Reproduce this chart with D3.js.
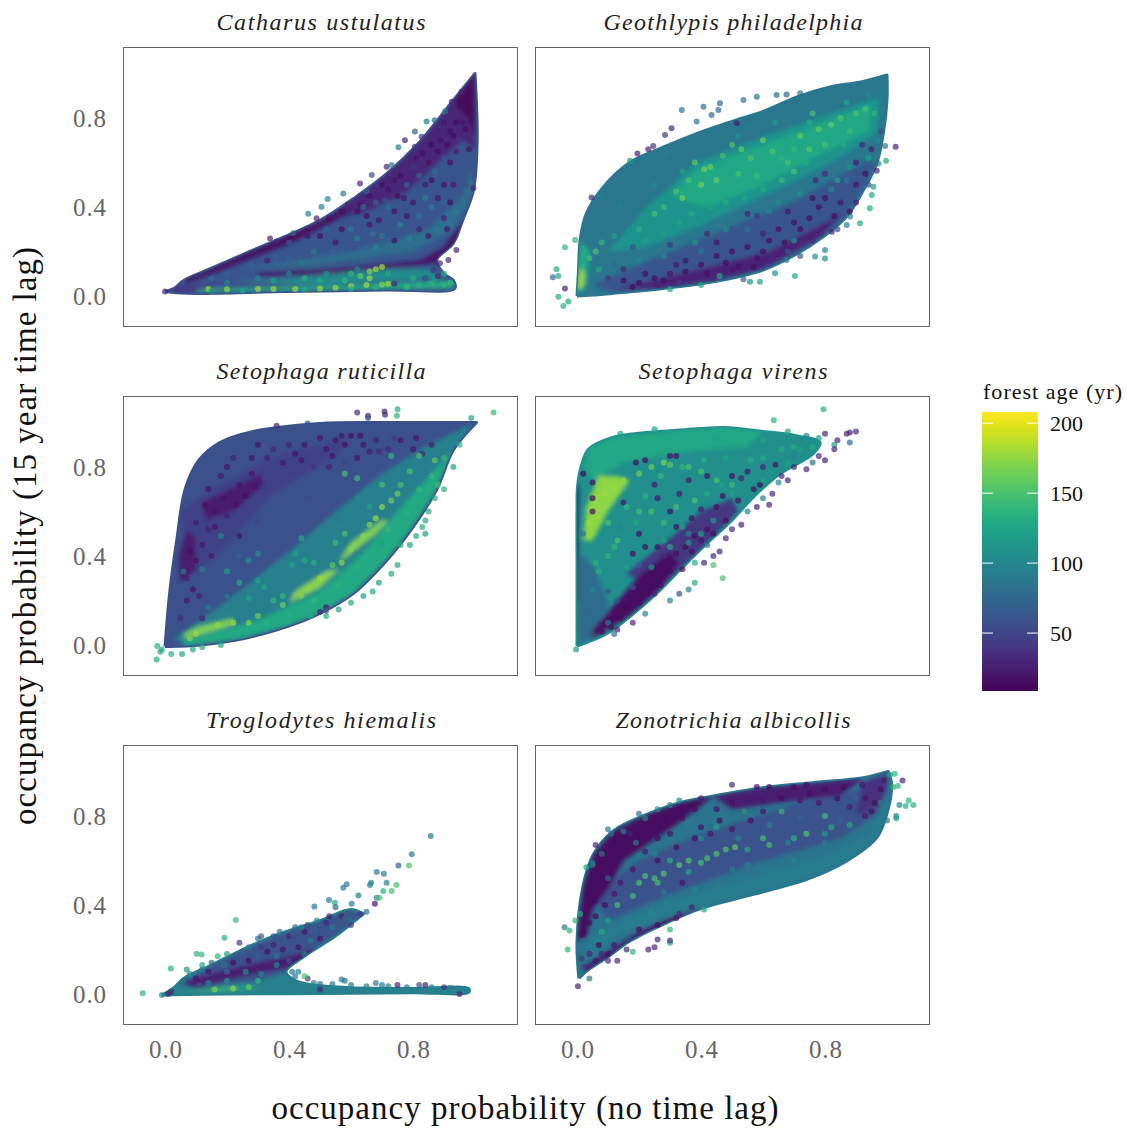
<!DOCTYPE html>
<html>
<head>
<meta charset="utf-8">
<script src="https://cdn.jsdelivr.net/npm/d3@7/dist/d3.min.js"></script>
<style>
  html, body { margin: 0; background: #fff; }
  svg text { font-family: "Liberation Serif", serif; }
</style>
</head>
<body>
<svg id="chart" width="1127" height="1128"></svg>
<script>
var species = ["Catharus ustulatus", "Geothlypis philadelphia", "Setophaga ruticilla",
               "Setophaga virens", "Troglodytes hiemalis", "Zonotrichia albicollis"];
var xTicks = [0, 0.4, 0.8];
var yTicks = [0, 0.4, 0.8];
var ageTicks = [50, 100, 150, 200];
var ageRange = [8.6, 208];

// regions: [age, outline], read off the dense part of each cloud. the first one is the hull
// a repeated vertex keeps the hull curve sharp at the tips of a cloud
var catharusRegions = [
  [62, [[0,.02],[0,.02],[.03,.035],[.06,.07],[.15,.125],[.285,.207],[.5,.34],[.62,.45],[.715,.55],[.82,.69],[.93,.88],[1,1],[1,1],[1.007,.7],[.995,.476],[.96,.34],[.93,.237],[.876,.16],[.9,.1],[.93,.07],[.935,.035],[.715,.027],[.39,.02],[.07,.012]]],
  [30, [[.5,.33],[.715,.55],[.82,.69],[.93,.88],[1,1],[1,.66],[.96,.7],[.88,.6],[.78,.47],[.65,.38]]],
  [14, [[.06,.07],[.285,.207],[.5,.335],[.6,.4],[.55,.34],[.4,.235],[.28,.17],[.15,.1],[.07,.055]]],
  [14, [[.93,.88],[1,1],[1,.72],[.975,.8]]],
  [80, [[.25,.12],[.6,.2],[.85,.3],[.96,.45],[.99,.56],[.995,.46],[.93,.3],[.8,.2],[.5,.14]]],
  [18, [[.3,.105],[.5,.115],[.7,.14],[.82,.16],[.9,.22],[.95,.32],[.97,.33],[.93,.2],[.88,.15],[.8,.135],[.7,.12],[.5,.095],[.3,.09]]],
  [105,[[.12,.05],[.4,.08],[.68,.12],[.85,.12],[.9,.08],[.5,.05]]],
  [50, [[.06,.06],[.3,.06],[.5,.05],[.3,.04],[.06,.04]]],
  [130,[[.1,.018],[.93,.035],[.93,.07],[.6,.05],[.1,.03]]],
  [40, [[0,.02],[.04,.045],[.14,.04],[.08,.015]]]
];
var geothlypisRegions = [
  [88, [[0,0],[0,0],[.005,.12],[.01,.25],[.03,.37],[.085,.49],[.17,.6],[.28,.67],[.386,.73],[.49,.78],[.6,.83],[.71,.895],[.816,.94],[.92,.963],[1,.993],[1,.993],[1,.88],[.988,.73],[.967,.596],[.924,.476],[.87,.357],[.795,.267],[.71,.19],[.6,.117],[.44,.064],[.278,.034],[.117,.012],[.05,.004]]],
  [62, [[.05,.05],[.386,.25],[.71,.43],[.924,.6],[.967,.596],[.924,.476],[.87,.357],[.795,.267],[.71,.19],[.6,.117],[.44,.064],[.278,.034],[.117,.012]]],
  [112,[[.1,.2],[.225,.4],[.386,.6],[.6,.716],[.816,.82],[.977,.896],[.967,.73],[.816,.596],[.6,.446],[.386,.31],[.225,.22]]],
  [128,[[.3,.45],[.386,.57],[.6,.68],[.816,.79],[.95,.86],[.94,.74],[.8,.65],[.6,.5],[.42,.4]]],
  [28, [[.12,.03],[.3,.09],[.45,.14],[.62,.2],[.8,.33],[.86,.38],[.79,.27],[.6,.12],[.44,.07],[.28,.035]]],
  [130,[[-.005,.0],[.01,.25],[.04,.2],[.03,.05]]],
  [178,[[.002,.04],[.008,.13],[.025,.1],[.02,.03]]]
];
var ruticillaRegions = [
  [58, [[0,-.007],[0,-.007],[.016,.247],[.038,.472],[.065,.7],[.108,.828],[.177,.91],[.285,.96],[.5,.996],[.715,1],[.9,1],[1.005,1],[1.005,1],[.93,.876],[.876,.697],[.8,.53],[.715,.38],[.608,.232],[.5,.142],[.392,.082],[.23,.022],[.07,-.005]]],
  [95, [[.03,.03],[.2,.2],[.4,.42],[.55,.6],[.7,.77],[.85,.9],[1,1],[.93,.876],[.8,.53],[.608,.232],[.392,.082],[.07,-.005]]],
  [130,[[.05,.012],[.3,.11],[.5,.24],[.65,.43],[.78,.65],[.9,.83],[1,.995],[.93,.876],[.876,.697],[.8,.53],[.715,.38],[.608,.232],[.5,.142],[.392,.082],[.23,.022],[.07,-.005]]],
  [48, [[.05,.6],[.15,.7],[.35,.85],[.6,.93],[.55,.85],[.35,.68],[.2,.45],[.08,.3]]],
  [24, [[.13,.56],[.22,.6],[.32,.72],[.31,.77],[.22,.71],[.12,.64]]],
  [24, [[.05,.28],[.1,.34],[.1,.48],[.07,.52],[.045,.4]]],
  [168,[[.06,.03],[.12,.05],[.22,.09],[.22,.12],[.1,.08],[.06,.05]]],
  [172,[[.4,.19],[.5,.26],[.56,.34],[.52,.33],[.42,.24]]],
  [170,[[.56,.37],[.68,.5],[.72,.56],[.7,.56],[.6,.46]]]
];
var virensRegions = [
  [108,[[0,-.005],[0,-.005],[0,.2],[0,.4],[0,.6],[.002,.716],[.015,.81],[.037,.88],[.107,.93],[.225,.955],[.333,.966],[.472,.978],[.6,.96],[.71,.94],[.784,.91],[.762,.86],[.655,.77],[.58,.68],[.49,.547],[.408,.442],[.332,.337],[.257,.232],[.17,.127],[.097,.052]]],
  [128,[[.02,.8],[.037,.88],[.107,.93],[.333,.966],[.472,.978],[.6,.96],[.55,.89],[.35,.87],[.15,.82],[.05,.74]]],
  [78, [[0,0],[0,.42],[.05,.36],[.1,.2],[.1,.05]]],
  [40, [[.16,.32],[.3,.48],[.4,.6],[.5,.66],[.52,.6],[.4,.43],[.26,.24]]],
  [15, [[.05,.03],[.17,.13],[.26,.24],[.33,.37],[.3,.42],[.2,.31],[.1,.15],[.05,.07]]],
  [174,[[.02,.47],[.05,.47],[.1,.6],[.17,.74],[.13,.76],[.07,.76],[.03,.62]]],
  [14, [[-.002,.2],[-.002,.72],[.006,.72],[.004,.2]]]
];
var troglodytesRegions = [
  [95, [[-.01,-.005],[-.01,-.005],[.03,.03],[.06,.07],[.15,.13],[.25,.2],[.35,.26],[.5,.33],[.6,.38],[.64,.36],[.64,.36],[.55,.26],[.45,.17],[.39,.1],[.42,.06],[.48,.04],[.6,.028],[.8,.025],[.98,.024],[.98,.008],[.8,.006],[.5,.002],[.2,0]]],
  [60, [[.05,.05],[.15,.13],[.25,.2],[.35,.26],[.5,.33],[.6,.38],[.64,.36],[.55,.26],[.45,.17],[.39,.1],[.3,.06],[.1,.03]]],
  [22, [[.05,.05],[.2,.11],[.3,.14],[.4,.17],[.47,.2],[.5,.18],[.4,.12],[.25,.08],[.1,.03]]],
  [145,[[.06,.008],[.2,.03],[.32,.03],[.2,.015]]]
];
var zonotrichiaRegions = [
  [85, [[.006,.07],[.006,.07],[0,.238],[.02,.49],[.053,.628],[.117,.733],[.225,.807],[.332,.86],[.44,.89],[.6,.927],[.762,.95],[.924,.972],[1.004,1],[1.004,1],[1.015,.942],[.999,.807],[.967,.703],[.87,.598],[.741,.515],[.547,.44],[.408,.388],[.278,.313],[.171,.238],[.096,.163],[.031,.103]]],
  [60, [[.05,.45],[.2,.6],[.4,.72],[.7,.85],[.95,.93],[.98,.82],[.85,.7],[.6,.6],[.3,.45],[.1,.33]]],
  [15, [[0,.24],[.02,.49],[.053,.628],[.117,.733],[.225,.807],[.332,.86],[.44,.89],[.3,.74],[.15,.6],[.1,.47],[.05,.38],[.03,.25]]],
  [25, [[.44,.89],[.6,.927],[.762,.95],[.924,.972],[.85,.89],[.65,.86],[.5,.83]]],
  [38, [[.9,.8],[.92,.95],[1,.99],[1,.86]]],
  [20, [[.02,.12],[.1,.19],[.2,.28],[.3,.34],[.4,.39],[.3,.3],[.17,.235],[.1,.16],[.03,.1]]],
  [92, [[.03,.24],[.1,.3],[.3,.42],[.55,.52],[.8,.62],[.95,.72],[1,.92],[.999,.807],[.967,.703],[.87,.598],[.741,.515],[.547,.44],[.408,.39],[.278,.345],[.13,.27],[.05,.18]]]
];

// single visible points: [x, y, age]
var catharusPoints = [
  [.957,.918,30],[.925,.873,30],[.903,.829,95],[.87,.79,75],[.844,.784,85],[.806,.739,70],[.828,.716,40],[.774,.7,30],[.753,.668,100],[.806,.671,40],
  [.715,.581,30],[.731,.589,95],[.667,.544,60],[.629,.506,30],[.575,.461,100],[.525,.436,100],[.505,.4,100],[.462,.37,95],[.489,.349,30],[.414,.282,70],
  [.339,.259,30],[.36,.245,30],[.995,.484,30],[.94,.207,30],[.887,.147,30],[.914,.162,30],[.866,.117,40],[.59,.41,30],[.65,.47,70],[.69,.5,40],
  [.95,.85,15],[.97,.75,15],[.93,.72,15],[.9,.78,20],[.88,.65,15],[.92,.6,15],[.96,.6,60],[.85,.6,15],[.8,.58,40],[.9,.5,18],[.95,.45,65],[.84,.5,18],
  [.78,.5,70],[.72,.48,18],[.8,.42,18],[.68,.42,70],[.62,.38,18],[.74,.38,20],[.86,.4,90],[.58,.33,60],[.66,.32,20],[.52,.3,75],[.46,.27,20],[.4,.24,60],
  [.7,.27,90],[.76,.32,100],[.82,.3,25],[.9,.35,25],[.62,.26,95],[.55,.24,20],[.48,.2,90],[.4,.17,70],[.33,.16,25],[.72,.4,85],[.78,.36,20],[.84,.44,95],
  [.88,.44,20],[.93,.5,20],[.97,.5,60],[.94,.65,25],[.87,.56,80],[.75,.45,15],[.6,.3,90],[.65,.36,15],[.69,.34,20],[.92,.42,15],[.98,.66,18],[.97,.9,15],
  [.6,.1,140],[.63,.09,160],[.66,.08,175],[.68,.12,180],[.7,.13,180],[.66,.11,170],[.5,.07,130],[.45,.08,135],[.35,.07,120],[.58,.07,140],
  [.6,.045,178],[.65,.05,180],[.7,.052,175],[.74,.055,30],[.72,.055,178],[.5,.034,178],[.42,.032,178],[.3,.031,178],[.2,.03,175],[.14,.032,175],[.35,.031,178],[.55,.037,178],
  [.87,.08,120],[.9,.1,130],[.92,.06,140],[0,.02,30],[.88,.09,30],[.84,.08,50],
  [.91,.68,15],[.89,.7,18],[.86,.68,15],[.83,.64,15],[.81,.62,18],[.76,.54,15],[.74,.52,18],[.7,.5,15],[.66,.45,15],[.63,.41,18],[.57,.38,15],[.53,.35,15],
  [.96,.78,18],[.94,.78,15],[.92,.74,18],[.98,.85,15],[.95,.7,40],[.9,.62,60],[.86,.52,15],[.82,.54,70],[.77,.44,15],[.71,.43,60],[.64,.4,80],[.57,.3,15],
  [.5,.27,15],[.43,.22,60],[.36,.18,70],[.28,.14,70],[.2,.1,70],[.15,.08,80],[.44,.15,90],[.54,.2,70],[.61,.22,60],[.68,.22,100],[.74,.25,15],[.79,.26,100],
  [.85,.27,20],[.88,.3,90],[.91,.3,20],[.94,.38,90],[.9,.42,70],[.82,.36,80],[.75,.3,70],[.67,.28,85],[.2,.06,100],[.3,.08,100],[.4,.1,100],[.52,.1,110],[.62,.12,100],
  [.72,.1,130],[.8,.08,130],[.86,.055,135],[.9,.05,140],[.82,.05,135],[.78,.04,140],[.68,.04,135],[.6,.03,130],[.45,.028,125],[.25,.024,120],[.15,.022,110],[.04,.028,40],[.08,.03,40]
];
var geothlypisPoints = [
  [.338,.836,85],[.408,.851,85],[.456,.836,75],[.461,.866,75],[.434,.813,80],[.305,.754,30],[.284,.724,40],[.23,.659,30],[.246,.674,40],[.195,.641,30],[.171,.608,120],
  [.047,.443,30],[-.039,.219,140],[-.006,.252,135],[-.066,.12,130],[-.078,.084,80],[-.06,.09,130],[-.039,.034,30],[-.06,-.003,130],[-.044,-.045,135],[-.028,-.025,130],
  [1.028,.671,25],[.994,.674,90],[.997,.608,130],[.972,.596,90],[.967,.563,30],[.956,.491,120],[.951,.454,130],[.945,.394,130],[.913,.327,130],[.881,.357,100],[.87,.319,95],
  [.822,.289,25],[.8,.207,100],[.8,.169,110],[.768,.177,110],[.676,.162,90],[.703,.09,130],[.639,.102,110],[.59,.064,120],[.537,.075,70],[.558,.064,110],
  [.644,.903,80],[.676,.906,75],[.72,.911,85],[.537,.881,85],[.58,.896,85],[.386,.784,90],[.515,.776,25],[.46,.09,130],[.4,.05,125],[.3,.03,130],
  [.38,.6,160],[.41,.57,165],[.43,.58,160],[.36,.52,150],[.32,.47,150],[.28,.4,145],[.25,.37,150],[.5,.68,155],[.53,.66,160],[.56,.62,150],[.6,.7,165],[.63,.65,155],
  [.68,.6,150],[.72,.72,160],[.78,.75,160],[.82,.77,160],[.85,.8,155],[.9,.82,150],[.93,.84,150],[.75,.66,155],[.8,.68,150],[.88,.74,145],[.45,.52,160],[.52,.55,150],
  [.58,.54,145],[.66,.52,145],[.7,.56,150],[.96,.82,140],[.76,.82,150],[.06,.2,150],[.04,.17,150],[.08,.24,140],[.2,.3,135],[.4,.5,165],[.47,.63,150],[.34,.44,165],
  [.15,.07,15],[.2,.06,15],[.25,.08,15],[.3,.1,18],[.28,.07,15],[.35,.11,15],[.4,.14,15],[.42,.1,15],[.45,.18,15],[.48,.15,15],[.5,.2,15],[.55,.22,15],[.58,.17,18],
  [.6,.2,15],[.62,.25,15],[.65,.3,15],[.67,.24,15],[.7,.33,15],[.72,.3,15],[.75,.35,15],[.78,.4,15],[.8,.44,15],[.83,.36,15],[.85,.42,18],[.88,.38,15],[.9,.5,18],
  [.93,.55,15],[.76,.44,15],[.68,.38,20],[.45,.24,20],[.35,.16,20],[.22,.1,15],[.32,.14,20],[.52,.13,15],[.6,.28,25],[.5,.3,60],[.58,.36,40],[.9,.6,20],[.95,.66,25],
  [.98,.74,60],[.55,.3,85],[.4,.2,90],[.7,.25,110],[.82,.48,100],[.87,.52,90],[.65,.42,105],[.77,.52,30],[.25,.15,60],[.15,.12,30],[.1,.08,40],
  [.12,.27,120],[.17,.3,110],[.22,.25,120],[.28,.28,120],[.33,.33,125],[.37,.37,130],[.43,.4,125],[.48,.42,130],[.54,.44,125],[.6,.48,130],[.66,.62,140],[.7,.66,140],[.74,.6,130],
  [.86,.68,130],[.92,.76,130],[.97,.7,100],[.92,.68,30],[.94,.62,120],[.88,.58,110],[.84,.52,120],[.8,.55,30],[.72,.46,110],[.62,.38,100],[.55,.37,25],[.48,.3,100],[.42,.28,30],
  [.38,.24,110],[.28,.18,100],[.2,.16,100],[.12,.14,80],[.07,.12,130],[.18,.22,60],[.3,.23,40],[.72,.18,60],[.76,.25,30],[.68,.2,60],[.63,.17,30],[.57,.13,15],[.5,.12,20],
  [.44,.08,30],[.33,.06,40],[.26,.05,25],[.18,.04,15],[.84,.3,60],[.9,.42,25],[.94,.5,60],[.08,.45,95],[.18,.56,90],[.3,.62,85],[.42,.7,90],[.55,.76,95],[.68,.84,90],[.8,.89,90],
  [.9,.93,88],[.25,.5,100],[.14,.4,95],[.52,.72,110],[.64,.78,115],[.75,.78,130],[.87,.87,120],[.34,.56,120],[.94,.9,100]
];
var ruticillaPoints = [
  [.62,1.045,30],[.655,1.03,30],[.708,1.05,30],[.71,1.035,30],[.75,1.06,135],[.748,1.03,135],[.36,.985,30],[.46,.995,60],[.988,1.02,130],[1.06,1.045,140],[.655,1.02,60],
  [.85,.6,130],[.84,.56,130],[.83,.53,135],[.84,.5,125],[.81,.49,130],[.79,.45,125],[.75,.36,130],[.73,.32,130],[.69,.28,125],[.67,.24,130],[.64,.22,125],[.6,.19,130],
  [.56,.16,125],[.52,.13,130],[.5,.15,30],[.52,.17,25],[.52,.155,60],[.47,.13,130],[.9,.7,135],[.87,.66,130],[.93,.8,125],
  [-.025,-.005,135],[-.015,-.03,130],[.02,-.04,135],[-.027,-.065,130],[.055,-.04,130],[.09,-.02,130],[.12,-.01,135],[.18,.0,130],[-.01,-.02,130],
  [.3,.9,20],[.28,.84,18],[.28,.77,20],[.38,.82,18],[.42,.86,18],[.4,.9,25],[.44,.83,18],[.5,.93,18],[.54,.85,18],[.58,.9,18],[.6,.94,18],[.53,.8,25],[.55,.92,20],
  [.62,.84,18],[.64,.9,20],[.68,.92,25],[.72,.88,30],[.8,.88,20],[.81,.93,18],[.83,.86,30],[.74,.93,40],[.66,.87,25],[.2,.8,18],[.22,.84,25],[.18,.76,20],[.14,.7,18],
  [.13,.63,18],[.1,.55,20],[.08,.42,18],[.09,.25,18],[.07,.2,18],[.15,.4,20],[.12,.12,25],[.05,.12,30],[.11,.22,25],[.16,.53,18],[.24,.49,20],
  [.2,.33,120],[.24,.28,130],[.27,.21,125],[.3,.29,125],[.32,.26,130],[.35,.2,140],[.38,.22,140],[.42,.41,120],[.44,.48,130],[.45,.38,130],[.41,.36,125],[.48,.37,135],
  [.3,.41,110],[.27,.38,105],[.18,.49,100],[.12,.34,90],[.06,.33,90],[.62,.75,145],[.58,.77,150],[.7,.72,150],[.76,.72,150],[.82,.85,150],[.87,.83,160],[.79,.78,150],
  [.75,.68,165],[.73,.65,165],[.7,.62,175],[.68,.57,178],[.66,.54,170],[.64,.49,170],[.6,.43,170],[.57,.37,170],[.54,.36,160],[.5,.3,178],[.44,.22,170],[.38,.18,165],
  [.3,.13,165],[.27,.1,170],[.22,.1,178],[.17,.09,175],[.1,.05,178],[.08,.03,170],[.73,.85,140],[.95,.9,135],[.88,.72,145],[.55,.46,145],[.58,.5,150],[.47,.45,100],
  [.16,.6,18],[.19,.66,20],[.23,.63,18],[.26,.67,15],[.29,.71,18],[.24,.72,18],[.2,.58,25],[.12,.45,20],[.1,.38,18],[.07,.3,25],[.14,.52,25],[.33,.84,25],[.45,.9,18],[.52,.88,18],
  [.57,.94,20],[.63,.94,18],[.69,.87,30],[.76,.92,20],[.86,.9,25],[.35,.88,30],[.48,.8,40],[.58,.82,50],[.66,.8,60],[.72,.76,90],[.62,.66,100],[.55,.68,60],[.46,.66,55],
  [.38,.6,60],[.3,.55,50],[.24,.4,70],[.2,.22,90],[.14,.17,90],[.36,.34,100],[.5,.42,95],[.56,.56,90],[.66,.62,120],[.72,.52,140],[.78,.6,135],[.82,.7,140],[.86,.76,140],[.9,.84,140],
  [.77,.56,130],[.62,.35,135],[.56,.27,135],[.48,.2,140],[.4,.14,135],[.33,.1,135],[.25,.06,130],[.17,.04,130],[.82,.62,125],[.7,.46,120],[.52,.23,130],[.76,.45,130]
];
var virensPoints = [
  [.795,1.06,135],[.635,1.01,135],[.68,.96,130],[.9,.96,30],[.87,.95,30],[.88,.955,30],[.84,.92,30],[.8,.95,30],[.74,.94,100],[.78,.93,120],
  [.88,.91,80],[.83,.9,120],[.83,.88,30],[.78,.85,30],[.76,.82,80],[.8,.83,30],[.74,.79,30],[.7,.8,30],[.66,.76,30],[.68,.74,30],[.63,.68,30],[.62,.63,30],
  [.58,.62,25],[.53,.54,30],[.5,.52,30],[.46,.42,30],[.44,.4,30],[.41,.37,30],[.44,.36,150],[.47,.3,150],[.38,.37,130],[.38,.28,130],[.36,.25,95],[.33,.23,60],[.3,.2,100],
  [.22,.14,100],[.18,.1,30],[.13,.07,30],[.12,.05,80],[.25,.23,30],[.42,.45,80],[.48,.48,30],[.55,.6,100],[.6,.66,100],[.65,.73,100],[.57,.7,15],[.52,.65,15],[.59,.72,15],
  [.45,.62,15],[.48,.56,15],[.42,.52,15],[.38,.49,15],[.35,.44,15],[.32,.41,15],[.28,.34,15],[.24,.3,15],[.27,.27,15],[.2,.19,15],[.16,.17,15],[.22,.44,15],[.26,.44,15],
  [.32,.53,15],[.37,.57,15],[.3,.6,15],[.2,.5,15],[.18,.41,15],[.5,.76,15],[.55,.78,20],[.42,.76,15],[.36,.74,20],[.33,.68,20],[.26,.66,20],[.02,.77,15],[.05,.73,15],[.05,.66,15],
  [.05,.6,15],[.19,.82,15],[.22,.83,15],[.3,.85,15],[.32,.85,15],[.25,.72,20],[.15,.64,20],[.14,.53,100],[.06,.37,135],[.07,.33,135],[.1,.4,140],[.12,.44,140],[.16,.35,120],
  [.24,.8,165],[.28,.82,170],[.3,.81,160],[.36,.8,150],[.4,.78,150],[.45,.74,150],[.5,.72,145],[.2,.77,165],[.12,.7,178],[.09,.68,178],[.07,.72,170],[.15,.74,175],[.04,.55,178],
  [.38,.65,150],[.32,.62,150],[.28,.55,145],[.24,.6,150],[.2,.6,145],[.1,.55,150],[.13,.47,150],[.16,.62,140],[.05,.25,100],[.1,.1,90],[.08,.15,90],[-.003,-.02,120],[.6,.84,130],
  [.45,.93,125],[.52,.96,128],[.6,.92,125],[.66,.88,130],[.7,.89,130],[.25,.97,125],[.14,.95,125],[.05,.88,128],
  [.55,.72,110],[.6,.74,120],[.5,.68,120],[.44,.56,115],[.4,.5,120],[.36,.46,110],[.28,.47,120],[.34,.53,120],[.42,.68,130],[.47,.72,120],[.62,.78,115],[.68,.82,120],[.56,.83,130],
  [.48,.84,125],[.41,.83,135],[.34,.8,140],[.27,.76,140],[.22,.67,135],[.19,.55,130],[.12,.37,110],[.18,.26,60],[.13,.2,60],[.1,.24,70],[.2,.36,70],[.28,.4,30],[.3,.33,15],[.23,.24,15],
  [.16,.2,20],[.34,.34,15],[.37,.42,15],[.4,.47,20],[.44,.5,15],[.36,.5,100],[.3,.44,130],[.24,.35,110],[.14,.12,15],[.11,.08,15],[.08,.06,15],[.02,.5,90],[.02,.35,80],[.03,.15,75],
  [.72,.88,120],[.76,.89,130],[.7,.85,100],[.64,.81,20],[.6,.8,30],[.53,.75,25],[.47,.67,15],[.4,.61,25]
];
var troglodytesPoints = [
  [.857,.71,90],[.796,.628,90],[.753,.578,70],[.787,.578,150],[.683,.548,90],[.706,.541,90],[.661,.49,95],[.665,.5,95],[.715,.5,90],[.747,.49,150],[.731,.463,150],[.704,.463,135],
  [.683,.433,100],[.692,.433,150],[.677,.406,20],[.575,.478,90],[.586,.493,90],[.624,.443,90],[.529,.422,90],[.548,.41,130],[.602,.406,90],[.482,.393,90],[.228,.333,140],
  [.192,.253,135],[.102,.181,140],[.118,.178,140],[.019,.115,135],[-.072,.003,140],[.65,.37,80],[.63,.36,40],[.6,.33,80],[.57,.35,25],[.53,.35,20],[.49,.33,100],[.55,.39,80],[.52,.32,30],
  [.46,.31,60],[.42,.3,80],[.4,.26,30],[.35,.26,60],[.3,.25,80],[.27,.21,90],[.24,.23,40],[.2,.18,120],[.17,.17,140],[.12,.13,130],[.07,.11,120],[.45,.28,20],[.5,.25,20],
  [.43,.21,20],[.38,.2,20],[.33,.19,15],[.27,.15,15],[.22,.14,15],[.14,.1,20],[.1,.07,20],[.3,.17,70],[.35,.22,25],[.4,.15,60],[.45,.18,90],[.36,.13,100],[.2,.1,80],
  [.41,.1,90],[.42,.08,90],[.43,.1,100],[.46,.07,40],[.58,.06,90],[.57,.065,90],[.7,.04,90],[.75,.04,25],[.84,.04,30],[.95,0.0,30],[.5,.02,30],[.3,.06,140],[.16,.02,170],
  [.22,.025,175],[.27,.03,160],[-.01,-.005,100],[.01,0,30],[.02,.01,30],[.82,.04,60],[.9,.03,40],[.68,.05,90],[.5,.045,80],[.45,.08,150],
  [.31,.26,70],[.37,.28,90],[.41,.27,60],[.44,.3,90],[.48,.29,70],[.5,.31,60],[.54,.3,90],[.58,.34,70],[.6,.31,40],[.47,.24,90],[.41,.23,60],[.36,.17,90],[.31,.21,40],[.25,.19,70],
  [.19,.13,90],[.15,.14,80],[.12,.11,90],[.08,.09,100],[.06,.06,80],[.26,.1,110],[.31,.09,100],[.2,.06,110],[.14,.05,100],[.11,.04,60],[.4,.06,90],[.48,.05,95],[.54,.045,95],[.6,.04,95],
  [.65,.035,95],[.72,.035,95],[.78,.03,95],[.86,.03,95],[.92,.028,95],[.25,.03,110],[.35,.035,95]
];
var zonotrichiaPoints = [
  [.5,.94,30],[-.04,.3,90],[-.024,.285,140],[-.03,.2,140],[-.005,.33,140],[.01,.36,130],[.02,.24,80],[.04,.07,90],[.003,.035,30],[.03,.12,30],[.08,.18,30],[.1,.15,30],[.13,.15,30],
  [.16,.2,30],[.18,.19,140],[.23,.2,30],[.25,.21,30],[.3,.29,140],[.26,.245,30],[.33,.36,30],[.37,.39,30],[.41,.38,130],[.3,.23,130],[.3,.24,40],
  [.19,.68,90],[.15,.73,90],[.11,.72,80],[.1,.74,90],[.08,.63,90],[.05,.59,90],[.05,.58,90],[.03,.57,130],[.22,.79,90],[.2,.81,85],[.26,.83,90],[.3,.85,90],
  [.33,.87,100],[.4,.88,25],[.06,.67,30],[.17,.72,30],[.58,.93,15],[.62,.93,15],[.7,.93,15],[.74,.94,15],[.8,.92,15],[.75,.9,15],[.72,.87,20],[.86,.93,15],
  [.92,.94,20],[.88,.84,25],[.95,.82,15],[.96,.86,15],[.98,.92,15],[.93,.88,20],[.46,.78,15],[.4,.75,18],[.3,.72,20],[.26,.7,15],[.22,.64,20],[.18,.56,20],[.12,.45,20],[.09,.4,15],
  [.06,.35,15],[.38,.83,15],[.34,.79,15],[.28,.78,15],[.5,.86,15],[.54,.82,20],[.45,.83,18],[.6,.87,20],[.14,.62,15],[.16,.67,15],[.08,.52,15],[.05,.5,15],[.035,.45,15],
  [1.025,.99,140],[1.01,.985,120],[1.05,.96,30],[1.02,.93,140],[1.035,.935,140],[.99,.96,25],[1.07,.87,135],[1.085,.85,135],[1.06,.845,135],[1.04,.85,100],[1.03,.8,100],[1.03,.79,120],[1,.78,90],
  [.2,.5,150],[.18,.44,150],[.22,.53,150],[.25,.52,150],[.28,.54,155],[.26,.5,150],[.33,.58,155],[.36,.6,155],[.4,.59,150],[.42,.61,150],[.45,.63,155],[.48,.65,150],[.51,.66,160],
  [.55,.65,130],[.3,.6,135],[.36,.55,130],[.6,.7,150],[.62,.67,150],[.7,.7,140],[.74,.72,155],[.8,.8,150],[.82,.75,130],[.88,.76,130],[.8,.72,120],[.66,.82,140],[.54,.82,135],[.45,.75,120],
  [.4,.7,110],[.25,.63,100],[.13,.4,150],[.1,.33,120],[.08,.28,130],[.55,.58,100],[.7,.6,100],[.6,.55,90],
  [.2,.62,90],[.26,.6,15],[.32,.66,15],[.38,.7,15],[.43,.72,20],[.36,.77,90],[.5,.74,20],[.56,.78,15],[.6,.82,20],[.66,.88,15],[.7,.84,60],[.78,.86,20],[.84,.88,15],[.9,.88,70],
  [.93,.8,20],[.72,.79,70],[.62,.76,90],[.52,.7,90],[.34,.5,20],[.28,.46,90],[.2,.42,60],[.14,.5,20],[.1,.52,70],[.06,.42,15],[.04,.32,15],[.02,.28,15],[.07,.22,15],[.12,.22,20],
  [.2,.29,15],[.26,.31,15],[.32,.34,20],[.1,.18,15],[.06,.15,20],[.04,.18,30],[.015,.16,40],[.02,.12,50],[.95,.92,40],[.98,.86,90],[.85,.78,70],[.68,.68,100],[.5,.56,95],
  [.38,.47,100],[.24,.37,100],[.15,.32,90],[.8,.68,90],[.9,.72,85]
];

var panels = [
  { regions: catharusRegions, points: catharusPoints },
  { regions: geothlypisRegions, points: geothlypisPoints },
  { regions: ruticillaRegions, points: ruticillaPoints },
  { regions: virensRegions, points: virensPoints },
  { regions: troglodytesRegions, points: troglodytesPoints },
  { regions: zonotrichiaRegions, points: zonotrichiaPoints }
];

var titleWidths = [209, 259, 209, 189, 230, 235];

var svg = d3.select("#chart"),
    panelW = 394,
    panelH = 279,
    lefts = [123, 535],
    tops = [47, 396, 745];

var x = d3.scaleLinear().domain([-0.1355, 1.1355]).range([0, panelW]);
var y = d3.scaleLinear().domain([-0.1348, 1.1191]).range([panelH, 0]);
var color = d3.scaleSequential(d3.interpolateViridis).domain(ageRange);
var outline = d3.line().x(function(d) { return x(d[0]); }).y(function(d) { return y(d[1]); });
var hullLine = d3.line().x(function(d) { return x(d[0]); }).y(function(d) { return y(d[1]); })
  .curve(d3.curveCatmullRomClosed.alpha(0.5));

var defs = svg.append("defs");
defs.append("filter").attr("id", "soft")
  .attr("x", "-20%").attr("y", "-20%").attr("width", "140%").attr("height", "140%")
  .append("feGaussianBlur").attr("stdDeviation", 2.2);

panels.forEach(function(panel, i) {
  var col = i % 2, row = Math.floor(i / 2);
  var g = svg.append("g").attr("transform", "translate(" + lefts[col] + "," + tops[row] + ")");

  var hull = panel.regions[0];
  defs.append("clipPath").attr("id", "hull" + i)
    .append("path").attr("d", hullLine(hull[1]));

  g.append("path")
    .attr("d", hullLine(hull[1]))
    .attr("fill", color(hull[0]))
    .attr("stroke", color(hull[0]))
    .attr("stroke-width", 3)
    .attr("stroke-linejoin", "round");

  g.append("g")
    .attr("clip-path", "url(#hull" + i + ")")
    .append("g")
    .attr("filter", "url(#soft)")
    .selectAll("path")
    .data(panel.regions.slice(1))
    .enter().append("path")
    .attr("d", function(d) { return outline(d[1]) + "Z"; })
    .attr("fill", function(d) { return color(d[0]); });

  g.append("g")
    .selectAll("circle")
    .data(panel.points)
    .enter().append("circle")
    .attr("cx", function(d) { return x(d[0]); })
    .attr("cy", function(d) { return y(d[1]); })
    .attr("r", 3)
    .attr("fill", function(d) { return color(d[2]); })
    .attr("fill-opacity", 0.7);

  g.append("rect")
    .attr("x", 0.5).attr("y", 0.5)
    .attr("width", panelW).attr("height", panelH)
    .attr("fill", "none")
    .attr("stroke", "#666");

  g.append("text")
    .attr("x", panelW / 2 + 1).attr("y", -17)
    .attr("text-anchor", "middle")
    .attr("font-size", 24)
    .attr("font-style", "italic")
    .attr("fill", "#222")
    .attr("textLength", titleWidths[i])
    .text(species[i]);

  if (col === 0) {
    var yAxis = g.append("g").call(d3.axisLeft(y).tickValues(yTicks).tickSize(0).tickPadding(17).tickFormat(d3.format(".1f")));
    yAxis.select(".domain").remove();
    yAxis.selectAll("text").attr("font-size", 25).attr("fill", "#666").attr("textLength", 33);
  }
  if (row === 2) {
    var xAxis = g.append("g").attr("transform", "translate(0," + panelH + ")")
      .call(d3.axisBottom(x).tickValues(xTicks).tickSize(0).tickPadding(16).tickFormat(d3.format(".1f")));
    xAxis.select(".domain").remove();
    xAxis.selectAll("text").attr("font-size", 25).attr("fill", "#666").attr("textLength", 33);
  }
});

svg.append("text")
  .attr("x", 525).attr("y", 1119)
  .attr("text-anchor", "middle")
  .attr("font-size", 33)
  .attr("fill", "#111")
  .attr("textLength", 507)
  .text("occupancy probability (no time lag)");

svg.append("text")
  .attr("transform", "translate(36,536) rotate(-90)")
  .attr("text-anchor", "middle")
  .attr("font-size", 33)
  .attr("fill", "#111")
  .attr("textLength", 578)
  .text("occupancy probability (15 year time lag)");

// colour bar
var barX = 982, barW = 56, barTop = 412, barH = 279;
var barScale = d3.scaleLinear().domain(ageRange).range([barTop + barH, barTop]);

var grad = defs.append("linearGradient").attr("id", "ageBar")
  .attr("x1", 0).attr("y1", 1).attr("x2", 0).attr("y2", 0);
d3.range(0, 1.001, 0.05).forEach(function(t) {
  grad.append("stop")
    .attr("offset", t)
    .attr("stop-color", d3.interpolateViridis(t));
});

svg.append("rect")
  .attr("x", barX).attr("y", barTop)
  .attr("width", barW).attr("height", barH)
  .attr("fill", "url(#ageBar)");

var legendAxis = svg.append("g")
  .attr("transform", "translate(" + (barX + barW) + ",0)")
  .call(d3.axisRight(barScale).tickValues(ageTicks).tickSize(0).tickPadding(12));
legendAxis.select(".domain").remove();
legendAxis.selectAll("text").attr("font-size", 22).attr("fill", "#111");

ageTicks.forEach(function(a) {
  [[barX, barX + 11], [barX + barW - 11, barX + barW]].forEach(function(s) {
    svg.append("line")
      .attr("x1", s[0]).attr("x2", s[1])
      .attr("y1", barScale(a)).attr("y2", barScale(a))
      .attr("stroke", "#fff")
      .attr("stroke-width", 1);
  });
});

svg.append("text")
  .attr("x", 983).attr("y", 399)
  .attr("font-size", 22)
  .attr("fill", "#111")
  .attr("textLength", 139)
  .text("forest age (yr)");
</script>
</body>
</html>
